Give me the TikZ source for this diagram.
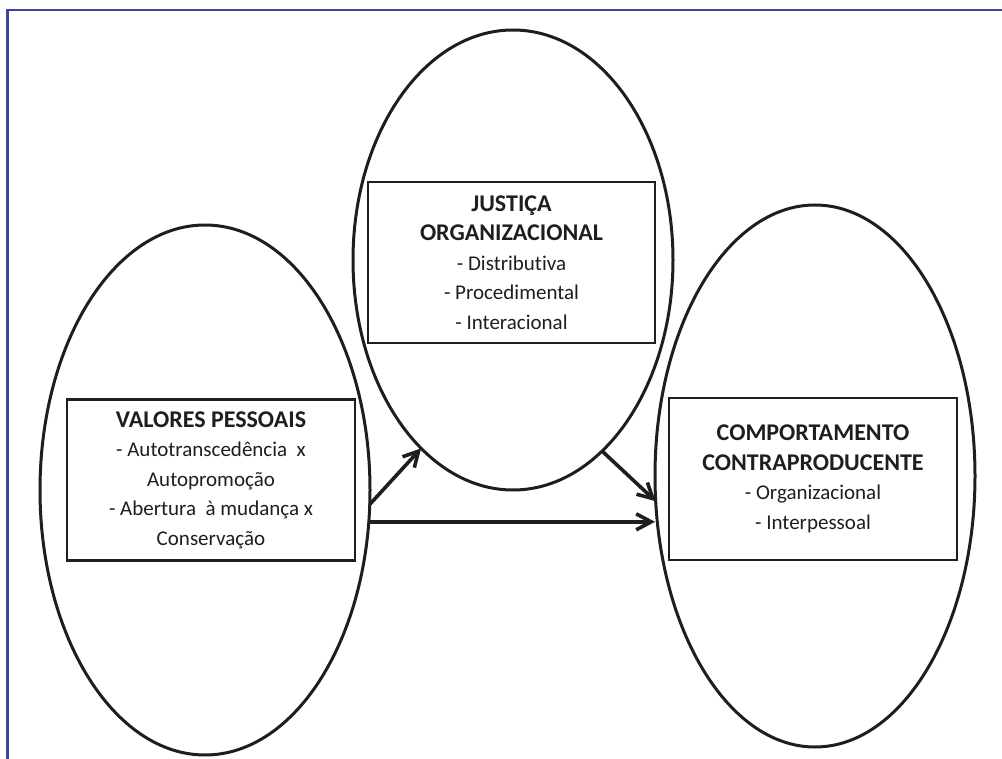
\documentclass[tikz,border=0pt]{standalone}
\usepackage{fontspec}
\setmainfont{Carlito}[Ligatures=NoCommon]
\usetikzlibrary{shapes.geometric,arrows.meta}
\definecolor{frameblue}{HTML}{3C44A0}
\definecolor{ink}{HTML}{1E1E1E}
\newcommand{\hd}[1]{{\fontsize{24}{30}\selectfont\bfseries #1}}
\tikzset{
  oval/.style={draw=ink, line width=3pt, ellipse, inner sep=0pt, outer sep=0pt},
  textbox/.style={draw=ink, line width=2.6pt, rectangle, inner sep=0pt, outer sep=0pt, align=center,
    font=\fontsize{21}{29.5}\selectfont, text=ink},
  link/.style={draw=ink, line width=3.6pt, -{Straight Barb[length=15pt,width=16pt]}}
}
\begin{document}
\begin{tikzpicture}[x=1pt,y=-1pt]
\useasboundingbox (0,0) rectangle (1002,759);
\draw[frameblue, line width=2.4pt] (1002,10) -- (7.5,10) -- (7.5,759);
% ellipses
\node[oval, minimum width=330pt, minimum height=530pt] (L) at (205,490) {};
\node[oval, minimum width=320pt, minimum height=460pt] (M) at (513,260) {};
\node[oval, minimum width=320pt, minimum height=542pt] (R) at (815,476) {};
% boxes
\node[textbox, minimum width=288pt, minimum height=161pt] (LB) at (211,480)
  {\hd{VALORES PESSOAIS}\\- Autotranscedência \ x\\Autopromoção\\- Abertura \ à mudança x\\Conservação};
\node[textbox, minimum width=287pt, minimum height=161pt] (MB) at (511.5,262.5)
  {\hd{JUSTIÇA}\\\hd{ORGANIZACIONAL}\\- Distributiva\\- Procedimental\\- Interacional};
\node[textbox, minimum width=288pt, minimum height=162pt] (RB) at (813,479)
  {\hd{COMPORTAMENTO}\\\hd{CONTRAPRODUCENTE}\\- Organizacional\\- Interpessoal};
% arrows
\draw[link] (L.-5.3) -- (M.244.6);
\draw[link] (M.-65.1) -- (R.189.5);
\coordinate (hs) at (L.-11.2);
\draw[link] (hs) -- (hs -| R.west);
\end{tikzpicture}
\end{document}
